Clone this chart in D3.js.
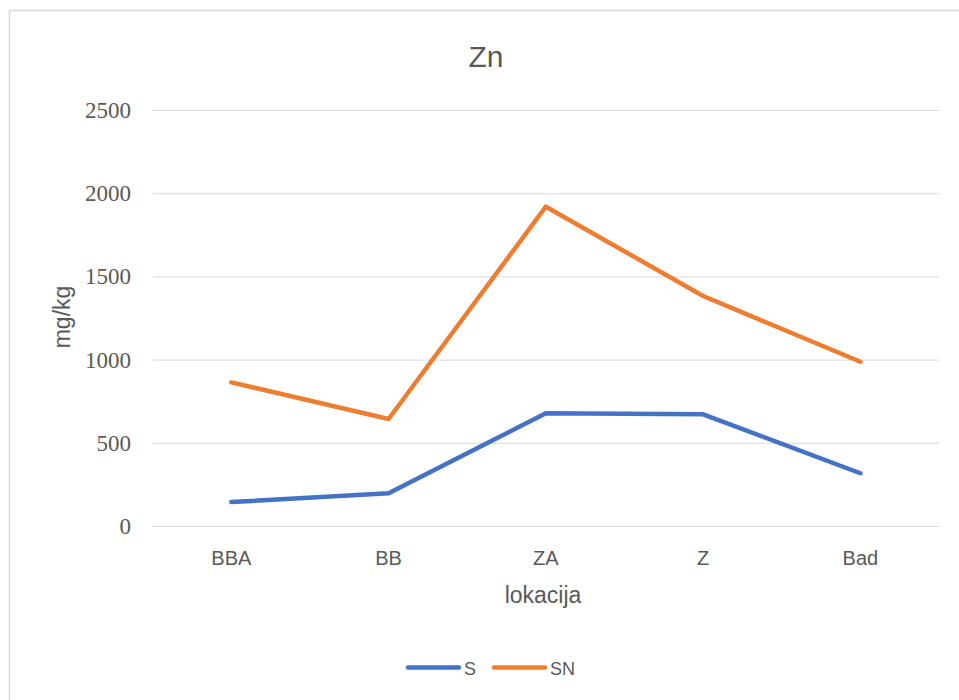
<!DOCTYPE html>
<html>
<head>
<meta charset="utf-8">
<script src="https://cdn.jsdelivr.net/npm/d3@7"></script>
<style>
  body { margin: 0; background: #fff; }
  svg { display: block; }
</style>
</head>
<body>
<svg width="959" height="700"></svg>
<script>
// data
var categories = ["BBA", "BB", "ZA", "Z", "Bad"];
var seriesS = [147, 200, 680, 674, 320];
var seriesSN = [866, 646, 1922, 1385, 990];
var yTicks = [0, 500, 1000, 1500, 2000, 2500];

var sans = '"Liberation Sans", Arial, sans-serif';
var serif = '"Liberation Serif", "DejaVu Serif", serif';
var textColor = '#595959';

var svg = d3.select('svg');

// chart border
svg.append('rect')
    .attr('x', 9.5).attr('y', 10.5)
    .attr('width', 960).attr('height', 700)
    .attr('fill', 'none')
    .attr('stroke', '#d9d9d9')
    .attr('stroke-width', 1.5);

var plotLeft = 152.7, plotRight = 939, plotTop = 110.5, plotBottom = 526.5;

var x = d3.scaleBand()
    .domain(categories)
    .range([plotLeft, plotRight]);
var y = d3.scaleLinear()
    .domain([0, 2500])
    .range([plotBottom, plotTop]);

// gridlines
svg.append('g')
    .selectAll('line')
    .data(yTicks)
    .enter()
    .append('line')
    .attr('x1', plotLeft).attr('x2', plotRight)
    .attr('y1', function(d){ return y(d); })
    .attr('y2', function(d){ return y(d); })
    .attr('stroke', '#d9d9d9')
    .attr('stroke-width', 1);

// y axis labels
var yAxis = d3.axisLeft(y).tickValues(yTicks).tickFormat(d3.format('d')).tickSize(0).tickPadding(0);
var gy = svg.append('g')
    .attr('transform', 'translate(131,0)')
    .call(yAxis);
gy.select('.domain').remove();
gy.selectAll('text')
    .attr('font-family', serif)
    .attr('font-size', 23)
    .attr('dy', '0.3em')
    .attr('fill', textColor);

// x axis labels
var xAxis = d3.axisBottom(x).tickSize(0).tickPadding(0);
var gx = svg.append('g')
    .attr('transform', 'translate(0,565)')
    .call(xAxis);
gx.select('.domain').remove();
gx.selectAll('text')
    .attr('font-family', sans)
    .attr('font-size', 20)
    .attr('dy', 0)
    .attr('fill', textColor);

// lines
var line = d3.line()
    .x(function(d, i){ return x(categories[i]) + x.bandwidth() / 2; })
    .y(function(d){ return y(d); });

var series = [
    {name: 'S', values: seriesS, color: '#4472C4'},
    {name: 'SN', values: seriesSN, color: '#ED7D31'}
];

svg.selectAll('path.series')
    .data(series)
    .enter()
    .append('path')
    .attr('class', 'series')
    .attr('d', function(d){ return line(d.values); })
    .attr('fill', 'none')
    .attr('stroke', function(d){ return d.color; })
    .attr('stroke-width', 4.5)
    .attr('stroke-linejoin', 'round')
    .attr('stroke-linecap', 'round');

// title
svg.append('text')
    .attr('x', 486).attr('y', 67)
    .attr('text-anchor', 'middle')
    .attr('font-family', sans)
    .attr('font-size', 30)
    .attr('fill', textColor)
    .text('Zn');

// axis titles
svg.append('text')
    .attr('x', 543).attr('y', 603)
    .attr('text-anchor', 'middle')
    .attr('font-family', sans)
    .attr('font-size', 23)
    .attr('fill', textColor)
    .text('lokacija');

svg.append('text')
    .attr('transform', 'translate(70,317) rotate(-90)')
    .attr('text-anchor', 'middle')
    .attr('font-family', sans)
    .attr('font-size', 23)
    .attr('fill', textColor)
    .text('mg/kg');

// legend
var legendPos = [406, 492];
var lg = svg.selectAll('g.legend')
    .data(series)
    .enter()
    .append('g')
    .attr('class', 'legend')
    .attr('transform', function(d, i){ return 'translate(' + legendPos[i] + ',667.5)'; });
lg.append('line')
    .attr('x1', 2).attr('x2', 53)
    .attr('stroke', function(d){ return d.color; })
    .attr('stroke-width', 4.5)
    .attr('stroke-linecap', 'round');
lg.append('text')
    .attr('x', 58).attr('y', 7)
    .attr('font-family', sans)
    .attr('font-size', 18)
    .attr('fill', textColor)
    .text(function(d){ return d.name; });
</script>
</body>
</html>
